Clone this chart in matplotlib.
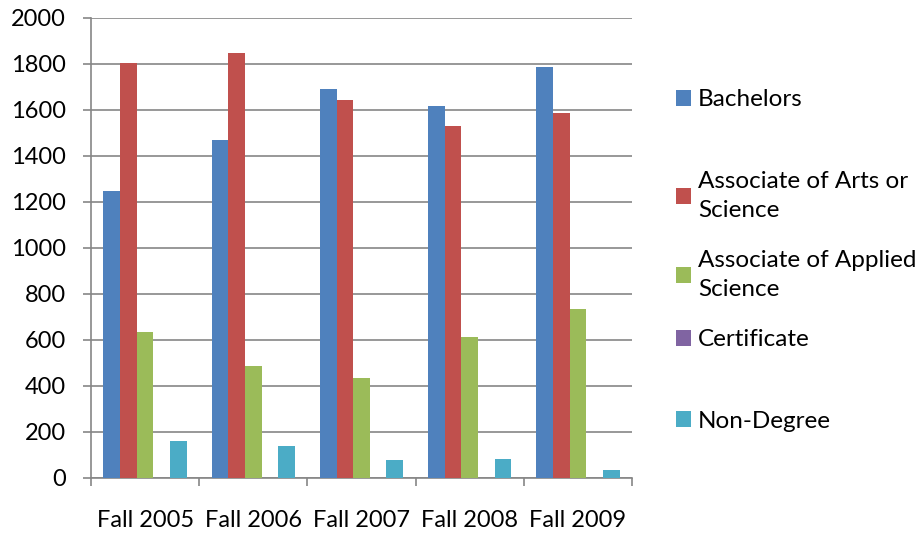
import numpy as np
import matplotlib
matplotlib.use("Agg")
import matplotlib.pyplot as plt
from matplotlib.patches import Patch

plt.rcParams['font.family'] = ['Lato', 'DejaVu Sans']

# data
terms = ["Fall 2005", "Fall 2006", "Fall 2007", "Fall 2008", "Fall 2009"]
series_names = ["Bachelors", "Associate of Arts or\nScience",
                "Associate of Applied\nScience", "Certificate", "Non-Degree"]
bachelors = [1250, 1470, 1690, 1618, 1788]
assoc_arts = [1805, 1850, 1645, 1532, 1587]
assoc_applied = [635, 485, 433, 614, 733]
certificate = [0, 0, 0, 0, 0]
non_degree = [162, 138, 78, 84, 35]
colors = ["#4F81BD", "#C0504D", "#9BBB59", "#8064A2", "#4BACC6"]
yticks = list(range(0, 2001, 200))

all_series = [bachelors, assoc_arts, assoc_applied, certificate, non_degree]

fig = plt.figure(figsize=(9.19, 5.35), dpi=100)
ax = fig.add_axes([91 / 919, 1 - 478 / 535, 541 / 919, 460 / 535])

x = np.arange(len(terms))
w = 1 / 6.5
for i, vals in enumerate(all_series):
    ax.bar(x + (i - 2) * w, vals, width=w, color=colors[i], zorder=3)

ax.set_xlim(-0.5, len(terms) - 0.5)
ax.set_ylim(0, 2000)
ax.set_yticks(yticks)
ax.grid(axis='y', color='#868686', linewidth=1.2, zorder=0)

ax.set_xticks(x)
ax.set_xticklabels(terms)
ax.set_xticks(np.arange(len(terms) + 1) - 0.5, minor=True)
ax.tick_params(axis='x', which='major', length=0, pad=23, labelsize=17)
ax.tick_params(axis='x', which='minor', length=6, color='#868686', width=1.2)
ax.tick_params(axis='y', length=6, color='#868686', width=1.2, pad=12, labelsize=17)

for s in ['top', 'right']:
    ax.spines[s].set_visible(False)
for s in ['left', 'bottom']:
    ax.spines[s].set_color('#868686')
    ax.spines[s].set_linewidth(1.2)

# legend entries placed one by one like the Excel layout
legend_y = [100, 196, 275, 340, 421]
for name, c, yy in zip(series_names, colors, legend_y):
    leg = fig.legend(handles=[Patch(facecolor=c)], labels=[name],
                     loc='center left', bbox_to_anchor=(676 / 919, 1 - yy / 535),
                     frameon=False, fontsize=17.5, handlelength=0.6, handleheight=0.6,
                     handletextpad=0.3, borderpad=0, borderaxespad=0)
    for t in leg.get_texts():
        t.set_linespacing(1.45)

fig.savefig("out.png", dpi=100)
